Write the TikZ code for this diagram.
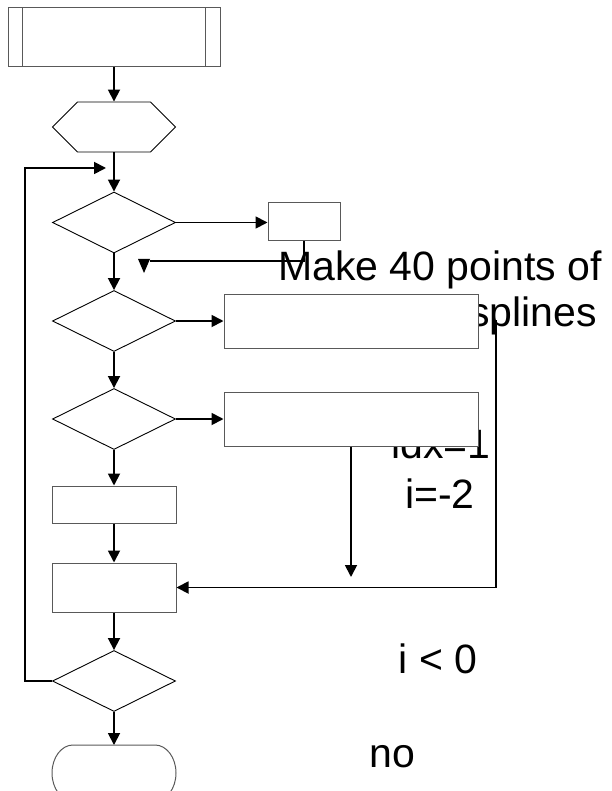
\documentclass[tikz,border=0pt]{standalone}
\usepackage{fontspec}
\setmainfont{Liberation Sans}
\usetikzlibrary{arrows.meta,shapes.geometric,shapes.symbols,calc}

\begin{document}
\begin{tikzpicture}[x=1pt,y=-1pt,
  conn/.style={line width=1.8pt, -{Triangle[length=12pt,width=12pt]}},
  plain/.style={line width=1.8pt},
  boxframe/.style={draw=black!65, line width=1pt, fill=white, rectangle, inner sep=0pt},
  decision/.style={draw=black, line width=0.9pt, fill=white, diamond, inner sep=0pt,
                   minimum width=123pt, minimum height=61pt},
  prep/.style={draw=black, line width=0.9pt, fill=white, signal, signal to=east and west,
               signal pointer angle=90, inner sep=0pt, minimum width=123pt, minimum height=50pt},
  lbl/.style={font=\fontsize{41}{47}\selectfont, inner sep=0pt}
]
\useasboundingbox (0,0) rectangle (611,791);

% free-standing labels (partly covered by the wide boxes)
\node[lbl, anchor=base] (t1) at (440,280) {Make 40 points of};
\node[lbl, anchor=base west] (t2) at (469,326) {splines};
\node[lbl, anchor=base] (t3) at (441,458) {idx=1};
\node[lbl, anchor=base] (t4) at (440,508) {i=-2};
\node[lbl, anchor=base] (t5) at (438,673) {i < 0};
\node[lbl, anchor=base] (t6) at (392,767) {no};

% main column
\node[boxframe, minimum width=212pt, minimum height=59pt] (start) at (114,37.5) {};
\draw[black!65, line width=1pt] ($(start.north west)+(15,0)$) -- ($(start.south west)+(15,0)$);
\draw[black!65, line width=1pt] ($(start.north east)+(-15,0)$) -- ($(start.south east)+(-15,0)$);
\node[prep] (hex) at (114,127) {};
\node[decision] (d1) at (114,222.5) {};
\node[decision] (d2) at (114,321) {};
\node[decision] (d3) at (114,419) {};
\node[boxframe, minimum width=124pt, minimum height=37pt] (r4) at (114,504.5) {};
\node[boxframe, minimum width=124pt, minimum height=49pt] (r5) at (114,587.5) {};
\node[decision] (d4) at (114,681) {};
\draw[black!65, line width=1pt] (73,745) -- (155,745)
  arc[start angle=-90, end angle=90, x radius=21, y radius=28] -- (73,801)
  arc[start angle=90, end angle=270, x radius=21, y radius=28] -- cycle;
\coordinate (stop) at (114,745);

% side boxes
\node[boxframe, minimum width=72pt, minimum height=38pt] (small) at (304,222) {};
\node[boxframe, minimum width=254pt, minimum height=54pt] (box2) at (351,321) {};
\node[boxframe, minimum width=254pt, minimum height=54pt] (box3) at (351,419) {};

% connectors
\draw[conn] (start) -- (hex);
\draw[conn] (hex) -- (d1);
\draw[conn] (d1.east) -- (d1.east -| small.west);
\coordinate (ret) at (150,261);
\draw[plain] (small.south) |- (ret);
\fill ($(ret)+(-12,-2)$) -- ($(ret)+(0,-2)$) -- ($(ret)+(-6,12)$) -- cycle;
\draw[conn] (d1) -- (d2);
\draw[conn] (d2.east) -- (d2.east -| box2.west);
\draw[conn] (d2) -- (d3);
\draw[conn] (d3.east) -- (d3.east -| box3.west);
\draw[conn] (d3) -- (r4);
\draw[conn] (r4) -- (r5);
\draw[conn] (r5) -- (d4);
\draw[conn] (d4) -- (stop);
\coordinate (loopin) at (106,168);
\draw[conn] (d4.west) -- ++(-27,0) |- (loopin);
\coordinate (drop) at (351,577);
\draw[conn] (box3.south) -- (drop);
\coordinate (feed) at (496,320);
\draw[conn] (feed) |- (r5.east);
\end{tikzpicture}
\end{document}
